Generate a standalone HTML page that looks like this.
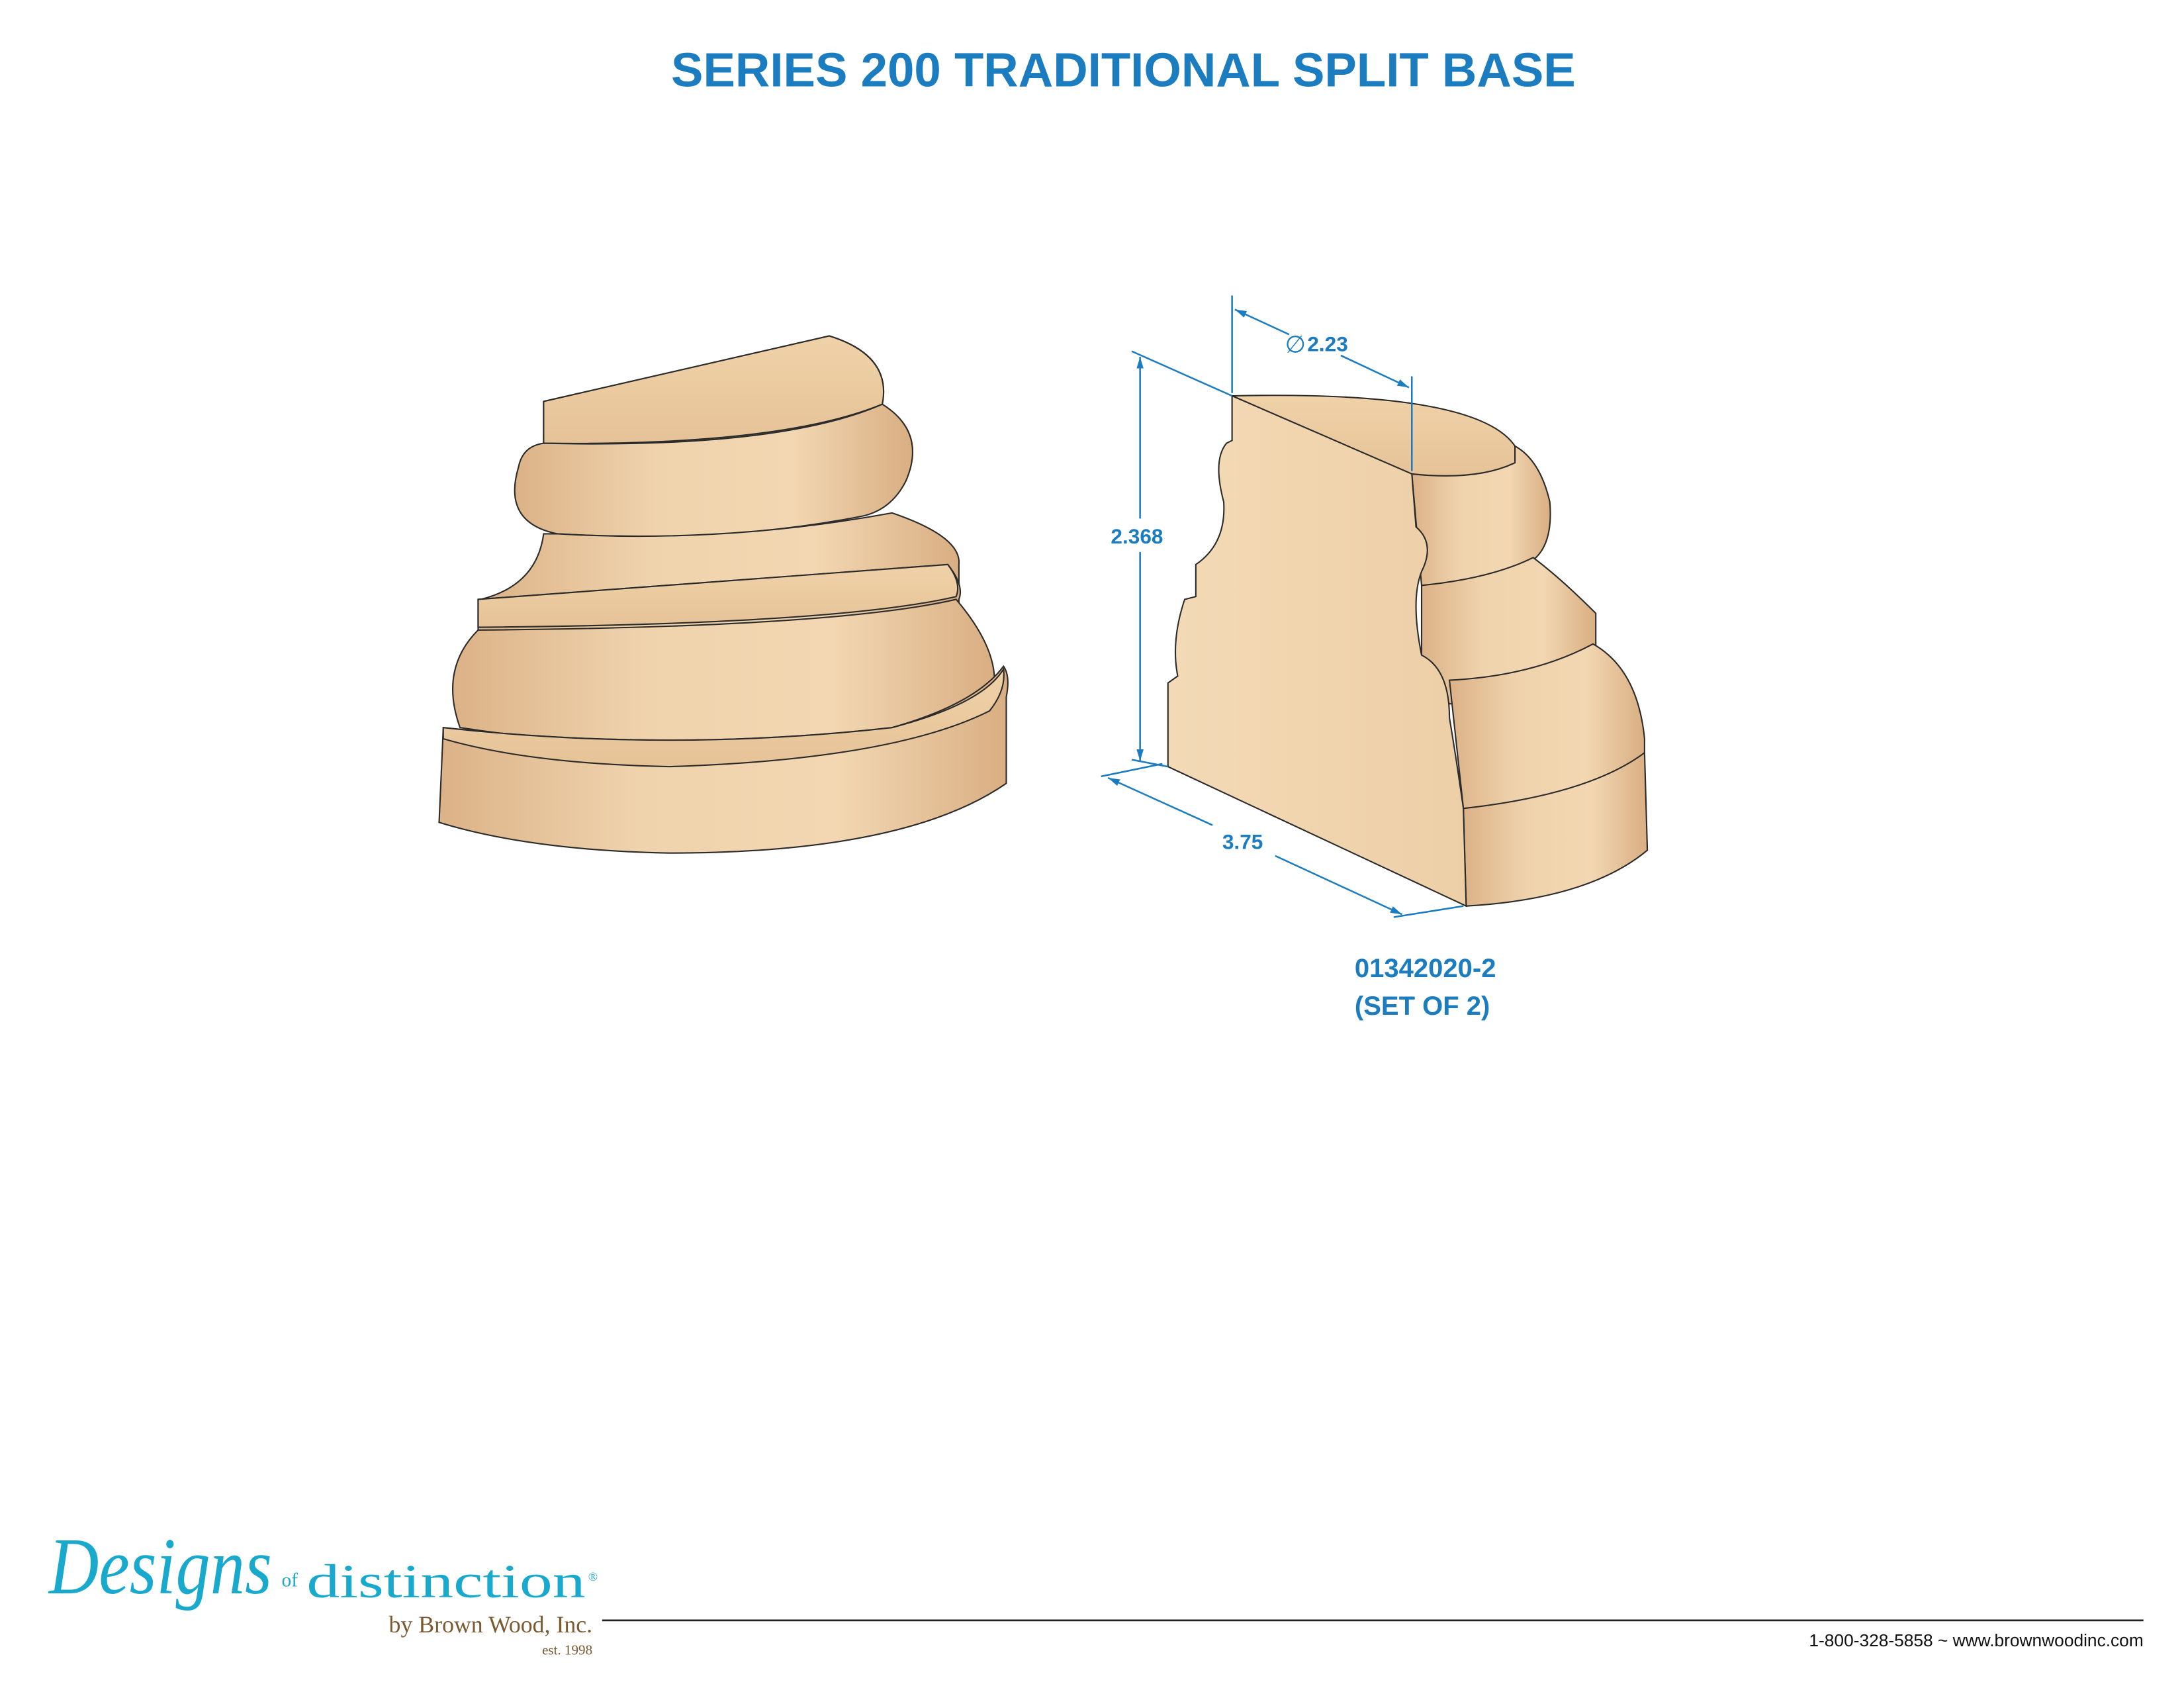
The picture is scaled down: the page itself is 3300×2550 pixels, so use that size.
<!DOCTYPE html>
<html><head><meta charset="utf-8"><style>
html,body{margin:0;padding:0;background:#fff;}
body{width:3300px;height:2550px;overflow:hidden;position:relative;}
svg{position:absolute;left:0;top:0;}
</style></head><body>
<svg width="3300" height="2550" viewBox="0 0 1567 1211" xmlns="http://www.w3.org/2000/svg">
<defs>
<linearGradient id="w" x1="0" x2="1" y1="0" y2="0">
<stop offset="0" stop-color="#dcb287"/><stop offset="0.35" stop-color="#efd3ad"/><stop offset="0.7" stop-color="#f2d7b2"/><stop offset="1" stop-color="#d9ae82"/></linearGradient>
<linearGradient id="t" x1="0" x2="0" y1="0" y2="1">
<stop offset="0" stop-color="#f0d2a8"/><stop offset="1" stop-color="#e6c297"/></linearGradient>
<linearGradient id="c" x1="0" x2="1" y1="0" y2="0">
<stop offset="0" stop-color="#f3dab6"/><stop offset="1" stop-color="#edcfa7"/></linearGradient>
<marker id="a" viewBox="0 0 10 10" refX="10" refY="5" markerWidth="7" markerHeight="7" orient="auto-start-reverse"><path d="M0,2 L10,5 L0,8 Z" fill="#1b7cc0"/></marker>
</defs>
<text x="806" y="62" text-anchor="middle" font-family="Liberation Sans, sans-serif" font-weight="bold" font-size="34.5" fill="#1b7cc0">SERIES 200 TRADITIONAL SPLIT BASE</text>

<g stroke="#2b2b2b" stroke-width="1" fill="url(#w)">
<path d="M390,288 L595,241 Q640,255 633,290 L633,300 Q560,335 390,332 Z" />
<path d="M390,288 L595,241 Q640,255 633,290 Q560,320 390,318 Z" fill="url(#t)"/>
<path d="M390,318 Q560,322 633,290 Q665,310 650,345 Q640,365 620,370 Q520,390 400,383 Q360,375 372,335 Q375,320 390,318 Z"/>
<path d="M400,383 Q520,390 640,368 Q690,385 688,405 L688,430 Q600,435 345,430 Q385,420 390,383 Z"/>
<path d="M343,430 L680,405 Q692,420 688,430 L688,445 Q600,470 343,470 Z"/>
<path d="M343,430 L680,405 Q690,418 686,428 Q600,448 343,450 Z" fill="url(#t)"/>
<path d="M343,452 Q600,450 686,430 Q720,470 712,500 Q700,520 640,525 Q480,545 330,522 Q315,480 343,452 Z"/>
<path d="M318,522 Q480,540 640,522 Q700,505 720,478 Q725,485 722,500 L722,562 Q650,612 480,612 Q380,610 315,590 Z"/>
<path d="M318,522 Q480,540 640,522 Q705,505 720,480 Q722,495 710,510 Q640,545 480,550 Q380,548 318,530 Z" fill="url(#t)"/>

<path d="M1013,340 Q1060,345 1087,330 L1087,320 Q1105,330 1112,360 Q1115,395 1095,405 Q1060,418 1020,420 Z"/>
<path d="M1020,420 Q1070,415 1100,400 Q1120,415 1145,440 L1145,480 Q1100,500 1040,505 L1020,470 Z"/>
<path d="M1040,488 Q1100,485 1143,462 Q1175,480 1180,530 L1180,545 Q1150,570 1050,580 Z"/>
<path d="M1050,580 Q1140,570 1180,540 L1182,610 Q1140,645 1052,650 Z"/>
<path d="M884,284 Q1060,280 1087,320 L1087,332 Q1060,345 1013,340 Z" fill="url(#t)"/>
<path d="M884,284 L1013,340 L1016,378 Q1030,390 1020,410 Q1012,430 1020,470 Q1040,480 1040,515 Q1045,545 1050,580 L1052,650 L838,550 L838,490 L845,485 Q840,460 850,430 L858,428 L858,405 Q880,390 878,360 Q870,330 880,318 L884,316 Z" fill="url(#c)"/>
</g>

<g stroke="#1b7cc0" stroke-width="1.2" fill="#1b7cc0" font-family="Liberation Sans, sans-serif" font-weight="bold" font-size="15">
<line x1="884" y1="212" x2="884" y2="282"/>
<line x1="1013" y1="270" x2="1013" y2="338"/>
<line x1="925" y1="240" x2="886" y2="222" marker-end="url(#a)"/>
<line x1="962" y1="255" x2="1011" y2="278" marker-end="url(#a)"/>
<line x1="812" y1="252" x2="884" y2="284"/>
<line x1="818" y1="372" x2="818" y2="256" marker-end="url(#a)"/>
<line x1="818" y1="396" x2="818" y2="546" marker-end="url(#a)"/>
<line x1="812" y1="545" x2="838" y2="550"/>
<line x1="790" y1="557" x2="834" y2="548"/>
<line x1="870" y1="592" x2="795" y2="558" marker-end="url(#a)"/>
<line x1="915" y1="614" x2="1006" y2="656" marker-end="url(#a)"/>
<line x1="1000" y1="658" x2="1050" y2="650"/>
<text stroke="none" x="938" y="252">2.23</text>
<text stroke="none" x="922" y="253" font-weight="normal" font-size="17">∅</text>
<text stroke="none" x="797" y="390">2.368</text>
<text stroke="none" x="877" y="609">3.75</text>
<text stroke="none" x="972" y="701" font-size="19">01342020-2</text>
<text stroke="none" x="972" y="728" font-size="19">(SET OF 2)</text>
</g>

<text x="35" y="1143" font-family="Liberation Serif, serif" font-style="italic" font-size="58" fill="#19a9cc" textLength="160" lengthAdjust="spacingAndGlyphs">Designs</text>
<text x="202" y="1138" font-family="Liberation Serif, serif" font-size="14" fill="#19a9cc">of</text>
<text x="220" y="1146" font-family="Liberation Serif, serif" font-size="34" fill="#19a9cc" textLength="200" lengthAdjust="spacingAndGlyphs">distinction</text>
<text x="422" y="1134" font-family="Liberation Serif, serif" font-size="9" fill="#19a9cc">®</text>
<text x="425" y="1171" text-anchor="end" font-family="Liberation Serif, serif" font-size="17" fill="#7a5a30">by Brown Wood, Inc.</text>
<text x="425" y="1187" text-anchor="end" font-family="Liberation Serif, serif" font-size="10" fill="#7a5a30">est. 1998</text>
<line x1="432" y1="1162.5" x2="1538" y2="1162.5" stroke="#222" stroke-width="1.3"/>
<text x="1538" y="1181" text-anchor="end" font-family="Liberation Sans, sans-serif" font-size="12.5" fill="#111">1-800-328-5858 ~ www.brownwoodinc.com</text>
</svg>
</body></html>
